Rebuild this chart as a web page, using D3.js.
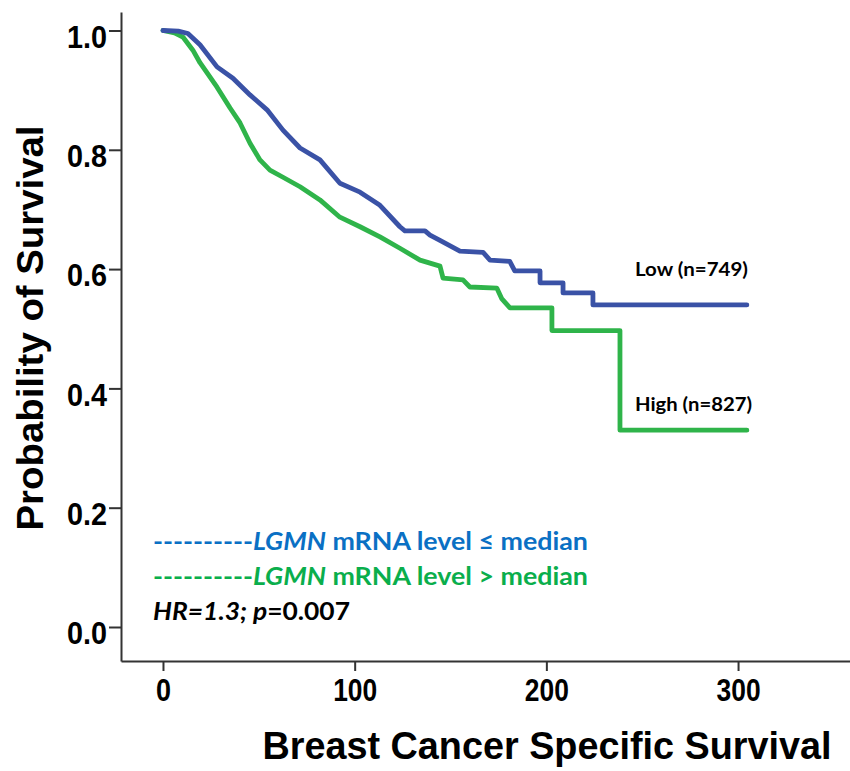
<!DOCTYPE html>
<html>
<head>
<meta charset="utf-8">
<script src="https://cdn.jsdelivr.net/npm/d3@7"></script>
<style>
  html, body { margin: 0; padding: 0; background: #fff; }
  svg { display: block; }
</style>
</head>
<body>
<svg id="chart" width="850" height="771"></svg>
<script>
// ---- Data ----
const lowTimes = [0, 8, 13, 19.3, 28.2, 36.5, 45.4, 54.3, 62.6, 71.5, 81.9, 92.3, 102.8, 113.2, 123.6, 126.2, 136.7, 139.3, 144.5, 154.9, 167.0, 170.6, 180.9, 183.5, 196.7, 196.7, 208.7, 208.7, 224.3, 224.3, 304.6];
const lowSurv  = [1.0, 0.999, 0.995, 0.976, 0.939, 0.920, 0.892, 0.867, 0.833, 0.803, 0.783, 0.744, 0.729, 0.707, 0.671, 0.664, 0.664, 0.657, 0.648, 0.630, 0.628, 0.615, 0.613, 0.597, 0.597, 0.577, 0.577, 0.560, 0.560, 0.540, 0.540];

const highTimes = [0, 6, 10.4, 15.6, 19.3, 28.2, 35, 40.2, 45.4, 50.6, 55.8, 62.6, 71.5, 81.9, 92.3, 102.8, 113.2, 123.6, 134.1, 144.5, 146.1, 156.5, 160.1, 174.2, 176.8, 181, 202.9, 202.9, 238.4, 238.4, 304.6];
const highSurv  = [1.0, 0.996, 0.989, 0.967, 0.946, 0.905, 0.870, 0.845, 0.811, 0.783, 0.766, 0.754, 0.738, 0.716, 0.687, 0.671, 0.654, 0.635, 0.615, 0.605, 0.585, 0.582, 0.570, 0.568, 0.550, 0.535, 0.535, 0.497, 0.497, 0.330, 0.330];

const xTicks = [0, 100, 200, 300];
const yTicks = [0.0, 0.2, 0.4, 0.6, 0.8, 1.0];
const groupLabels = ["Low (n=749)", "High (n=827)"];
const legendLabels = ["mRNA level \u2264 median", "mRNA level > median"];
const geneName = "LGMN";
const statsText = ["HR=1.3; ", "p", "=0.007"];
const xTitle = "Breast Cancer Specific Survival";
const yTitle = "Probability of Survival";

// ---- Layout ----
const svg = d3.select("#chart");
const x = d3.scaleLinear().domain([-21.9, 358.4]).range([121, 850]);
const y = d3.scaleLinear().domain([-0.057, 1.031]).range([661, 12]);

const axisColor = "#333";
const blueLine = "#3a52a6";
const greenLine = "#2fb44a";
const blueText = "#0a70c4";
const greenText = "#0aae4c";

// Axes
const yAxis = svg.append("g").attr("transform", "translate(121,0)")
  .call(d3.axisLeft(y).tickValues(yTicks).tickFormat(d3.format(".1f")).tickSize(12).tickSizeOuter(0));
const xAxis = svg.append("g").attr("transform", "translate(0,661)")
  .call(d3.axisBottom(x).tickValues(xTicks).tickFormat(d3.format("d")).tickSize(10).tickSizeOuter(0));

[yAxis, xAxis].forEach(g => {
  g.select(".domain").attr("stroke", axisColor).attr("stroke-width", 2);
  g.selectAll(".tick line").attr("stroke", axisColor).attr("stroke-width", 2);
  g.selectAll(".tick text")
    .attr("fill", "#000")
    .attr("font-family", "'Liberation Sans', Arial, sans-serif")
    .attr("font-weight", "bold")
    .attr("font-size", 32);
});
yAxis.selectAll(".tick text").attr("x", -14).attr("dy", "0.52em")
  .attr("textLength", 40).attr("lengthAdjust", "spacingAndGlyphs");
xAxis.selectAll(".tick text").attr("y", 40).attr("dy", 0)
  .attr("textLength", function(d){ return d === 0 ? 15 : 44; })
  .attr("lengthAdjust", "spacingAndGlyphs");

// Axis titles
svg.append("text")
  .attr("transform", "translate(43,328) rotate(-90)")
  .attr("text-anchor", "middle")
  .attr("font-family", "'Liberation Sans', Arial, sans-serif")
  .attr("font-weight", "bold").attr("font-size", 36)
  .attr("textLength", 405).attr("lengthAdjust", "spacingAndGlyphs")
  .text(yTitle);

svg.append("text")
  .attr("x", 547).attr("y", 759)
  .attr("text-anchor", "middle")
  .attr("font-family", "'Liberation Sans', Arial, sans-serif")
  .attr("font-weight", "bold").attr("font-size", 38)
  .attr("textLength", 569).attr("lengthAdjust", "spacingAndGlyphs")
  .text(xTitle);

// Curves
const line = d3.line().x(d => x(d[0])).y(d => y(d[1])).curve(d3.curveLinear);
const lowData = lowTimes.map((t, i) => [t, lowSurv[i]]);
const highData = highTimes.map((t, i) => [t, highSurv[i]]);

svg.append("path").datum(highData).attr("d", line)
  .attr("fill", "none").attr("stroke", greenLine).attr("stroke-width", 4.8)
  .attr("stroke-linejoin", "round").attr("stroke-linecap", "round");
svg.append("path").datum(lowData).attr("d", line)
  .attr("fill", "none").attr("stroke", blueLine).attr("stroke-width", 4.8)
  .attr("stroke-linejoin", "round").attr("stroke-linecap", "round");

// Group labels
const labelFont = "Lato, 'Open Sans', sans-serif";
svg.append("text").attr("x", 635).attr("y", 276)
  .attr("font-family", labelFont).attr("font-weight", "bold").attr("font-size", 19)
  .attr("textLength", 113).attr("lengthAdjust", "spacingAndGlyphs")
  .text(groupLabels[0]);
svg.append("text").attr("x", 635).attr("y", 411)
  .attr("font-family", labelFont).attr("font-weight", "bold").attr("font-size", 19)
  .attr("textLength", 117).attr("lengthAdjust", "spacingAndGlyphs")
  .text(groupLabels[1]);

// Legend
const legendY = [550, 585];
const legendCols = [blueText, greenText];
legendLabels.forEach((lab, i) => {
  const t = svg.append("text").attr("x", 153).attr("y", legendY[i])
    .attr("font-family", labelFont).attr("font-weight", "bold").attr("font-size", 25)
    .attr("fill", legendCols[i])
    .attr("textLength", 435).attr("lengthAdjust", "spacingAndGlyphs");
  t.append("tspan").text("----------");
  t.append("tspan").attr("font-style", "italic").text(geneName);
  t.append("tspan").text(" " + lab);
});

const hr = svg.append("text").attr("x", 153).attr("y", 620)
  .attr("font-family", labelFont).attr("font-weight", "bold").attr("font-size", 25)
  .attr("fill", "#000")
  .attr("textLength", 197).attr("lengthAdjust", "spacingAndGlyphs");
hr.append("tspan").attr("font-style", "italic").text(statsText[0]);
hr.append("tspan").attr("font-style", "italic").text(statsText[1]);
hr.append("tspan").text(statsText[2]);
</script>
</body>
</html>
